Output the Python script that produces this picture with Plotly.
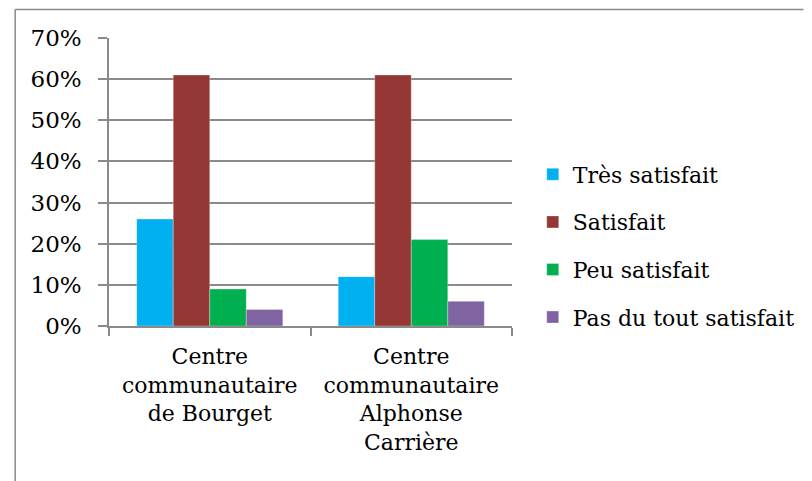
import plotly.graph_objects as go

# data
centres = ["Centre<br>communautaire<br>de Bourget",
           "Centre<br>communautaire<br>Alphonse<br>Carrière"]
tres_satisfait = [0.26, 0.12]
satisfait = [0.61, 0.61]
peu_satisfait = [0.09, 0.21]
pas_du_tout = [0.04, 0.06]

series = [
    ("Très satisfait", tres_satisfait, "#00B0F0"),
    ("Satisfait", satisfait, "#953735"),
    ("Peu satisfait", peu_satisfait, "#00B050"),
    ("Pas du tout satisfait", pas_du_tout, "#8064A2"),
]

police = "DejaVu Serif"

fig = go.Figure()
for i, (nom, vals, coul) in enumerate(series):
    fig.add_trace(go.Bar(
        x=centres, y=vals, name=nom,
        legendgroup="g{0}".format(i),
        marker=dict(color=coul, line=dict(color="rgba(255,255,255,0.6)", width=0.5)),
    ))

# plot area in pixels
L, R, T, B = 109, 517, 38, 326
W, H = 812, 481
def px_x(p):
    return (p - L) / (R - L)
def px_y(p):
    return (B - p) / (B - T)

# left and top edges of the outer chart frame (kept inside the figure)
cadre = dict(type="line", xref="paper", yref="paper",
             line=dict(color="#8a8a8a", width=1.5))
fig.add_shape(x0=px_x(14), x1=px_x(14), y0=px_y(H), y1=px_y(9.5), **cadre)
fig.add_shape(x0=px_x(14), x1=px_x(W), y0=px_y(9.5), y1=px_y(9.5), **cadre)

fig.update_layout(
    width=W, height=H,
    margin=dict(l=L, r=W - R, t=T, b=H - B),
    paper_bgcolor="white", plot_bgcolor="white",
    barmode="group", bargap=0.275, bargroupgap=0,
    font=dict(family=police, size=22, color="black"),
    showlegend=True,
    # legend must stay inside the figure or plotly shrinks the plot area
    legend=dict(x=px_x(538), xanchor="left", y=px_y(246), yanchor="middle",
                traceorder="grouped", tracegroupgap=16,
                font=dict(family=police, size=22, color="black"),
                itemwidth=30, bgcolor="rgba(0,0,0,0)"),
    xaxis=dict(showline=True, linecolor="#8a8a8a", linewidth=1.5,
               ticks="outside", tickson="boundaries", ticklen=8,
               tickcolor="#8a8a8a", tickwidth=1.5, tickangle=0, automargin=False,
               ticklabelstandoff=10,
               tickfont=dict(family=police, size=22, color="black")),
    yaxis=dict(range=[0, 0.7], dtick=0.1, tickformat=".0%",
               showgrid=True, gridcolor="#8a8a8a", gridwidth=1.5,
               showline=True, linecolor="#8a8a8a", linewidth=1.5,
               ticks="outside", ticklen=9, tickcolor="#8a8a8a", tickwidth=1.5,
               zeroline=False, automargin=False, ticklabelstandoff=12,
               tickfont=dict(family=police, size=23, color="black")),
)

# no body margin so the figure sits at the page corner
fig.write_html("out.html", config=dict(displayModeBar=False),
               post_script="document.body.style.margin='0';document.body.style.overflow='hidden';")
